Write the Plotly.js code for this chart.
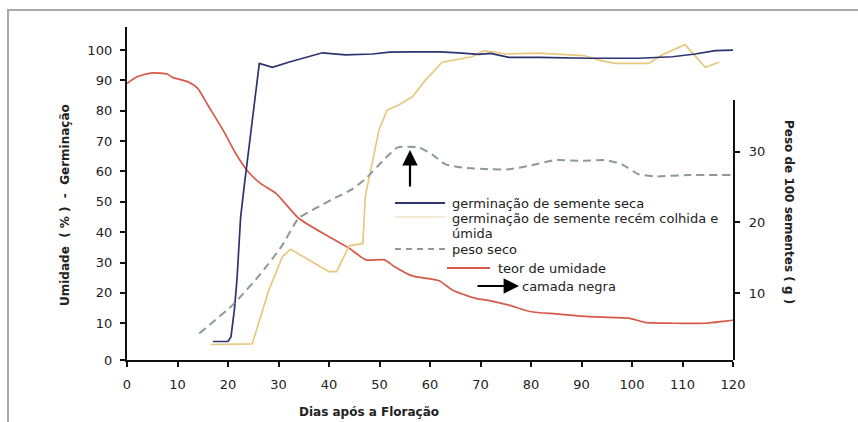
<!DOCTYPE html>
<html>
<head>
<meta charset="utf-8">
<script src="https://cdn.plot.ly/plotly-3.0.1.min.js"></script>
<style>
html,body{margin:0;padding:0;background:#fff;overflow:hidden;}
#wrap{position:relative;width:858px;height:422px;overflow:hidden;}
#chart{width:858px;height:422px;}
#frame{position:absolute;left:7px;top:9px;width:1000px;height:1000px;border-top:2px solid #a8a8a8;border-left:2px solid #a8a8a8;pointer-events:none;}
</style>
</head>
<body>
<div id="wrap"><div id="chart"></div><div id="frame"></div></div>
<script>
// ---- Data ----
const xTickVals = [0,10,20,30,40,50,60,70,80,90,100,110,120];

// teor de umidade (%), left axis
const umidadeDias = [0,2,5,8,9,12,14,16,19,21.5,24,26.5,29.5,34,40,44,47.3,51,53,56.5,61.8,64.4,69,72,75.6,80,85,91.4,99.3,102.6,108,114.5,118,120];
const umidadeVals = [89,91.2,92.5,92.1,91,89.6,87.4,81.9,73.7,66,59.9,56,52.8,44.6,38.5,34.7,30.9,30.9,28.6,25.6,24,21,18.2,17.4,16,13.8,13.1,12.2,11.7,10.3,10,10,10.6,11];

// germinação de semente seca (%), left axis
const secaDias = [17,20,20.6,21.3,21.8,22.5,23.2,26.2,28.8,32,38.7,43.3,48.6,52,56.5,62,65.7,69.7,72,75.6,81.6,91.4,101.3,108,112.5,116.5,120];
const secaVals = [4,4,5.6,15,25,45,55,95.6,94.3,96,99.1,98.4,98.7,99.3,99.4,99.4,99.1,98.6,98.9,97.6,97.6,97.3,97.3,97.8,98.7,99.8,100];

// germinação de semente recém colhida e úmida (%), left axis
const umidaDias = [16.6,24.8,28.1,30.8,32.4,36,40,41.5,44,46.7,47.2,49.9,51.5,53.8,56.5,59.1,62.4,68.3,70.7,75,81.5,90.5,93.4,96.7,103.3,105.9,110.5,114.5,117.3];
const umidaVals = [3,3.2,21,32,34.4,31,27,27,35.5,36.3,52,73.7,80.2,81.9,84.6,90.1,96,97.8,99.8,98.7,99,98.2,96.7,95.6,95.6,98.4,101.8,94.3,96];

// peso seco (g / 100 sementes), right axis
const pesoDias = [14.3,20.9,26.2,30.5,34,37.4,40.5,44.6,47.3,51.2,53.6,57.8,60.4,63.1,67,72,75.6,79.6,84.8,90.1,94.7,98,101.3,104.6,111.2,119.5];
const pesoVals = [4.3,8.3,12.5,16.5,20.6,22,23.2,24.7,26.2,29.1,30.6,30.6,29.6,28.2,27.7,27.5,27.5,28,28.8,28.7,28.8,28.2,26.8,26.5,26.7,26.7];

const leftTickVals = [-2.1,10,20,30,40,50,60,70,80,90,100];
const leftTickText = ["0","10","20","30","40","50","60","70","80","90","100"];
const rightTickVals = [10,20,30];

// ---- Layout geometry (pixels) ----
const L = 127, R = 733, T = 27, B = 360;
const W = R - L, H = B - T;
const px = x => (x - L) / W;
const py = y => (B - y) / H;

const FONT = "DejaVu Sans";
const TXT = "#222";

const COL_SECA = "#2b3470";
const COL_UMIDA = "#e6c97f";
const COL_UMID = "#d65a49";
const COL_PESO = "#8e9894";

const traces = [
  {x: umidadeDias, y: umidadeVals, type: "scatter", mode: "lines", name: "teor de umidade",
   line: {color: COL_UMID, width: 1.7, shape: "spline", smoothing: 0.6}, xaxis: "x", yaxis: "y"},
  {x: umidaDias, y: umidaVals, type: "scatter", mode: "lines", name: "germinação de semente recém colhida e úmida",
   line: {color: COL_UMIDA, width: 1.7}, xaxis: "x", yaxis: "y"},
  {x: secaDias, y: secaVals, type: "scatter", mode: "lines", name: "germinação de semente seca",
   line: {color: COL_SECA, width: 1.7}, xaxis: "x", yaxis: "y"},
  {x: pesoDias, y: pesoVals, type: "scatter", mode: "lines", name: "peso seco",
   line: {color: COL_PESO, width: 2, dash: "8px,5px", shape: "spline", smoothing: 0.5}, xaxis: "x", yaxis: "y2"}
];

const tickFont = {family: FONT, size: 13, color: TXT};
const bold = {family: FONT, size: 12, color: TXT};
const legFont = {family: FONT, size: 13, color: TXT};

function txt(x, y, text, font, extra) {
  return Object.assign({xref: "paper", yref: "paper", x: px(x), y: py(y), text: text,
    showarrow: false, xanchor: "left", yanchor: "middle", font: font}, extra || {});
}

const annotations = [
  txt(369, 412, "<b>Dias após a Floração</b>", bold, {xanchor: "center"}),
  txt(65, 205, "<b>Umidade  ( % )  -  Germinação</b>", bold, {xanchor: "center", textangle: -90}),
  txt(789, 212, "<b>Peso de 100 sementes ( g )</b>", bold, {xanchor: "center", textangle: 90}),
  txt(450, 203, "germinação de semente seca", legFont),
  txt(450, 218, "germinação de semente recém colhida e", legFont),
  txt(450, 233, "úmida", legFont),
  txt(450, 249, "peso seco", legFont),
  txt(496, 268, "teor de umidade", legFont),
  txt(520, 286, "camada negra", legFont),
  // arrow to "camada negra"
  {xref: "paper", yref: "paper", x: px(519), y: py(286), ax: -43, ay: 0, text: "",
   showarrow: true, arrowhead: 2, arrowsize: 1.4, arrowwidth: 2.2, arrowcolor: "#000"},
  // upward arrow under the dry-weight peak
  {xref: "paper", yref: "paper", x: px(410), y: py(150), ax: 0, ay: 38, text: "",
   showarrow: true, arrowhead: 2, arrowsize: 1.4, arrowwidth: 2.2, arrowcolor: "#000"}
];

function seg(x0, x1, y, color, width, dash) {
  return {type: "line", xref: "paper", yref: "paper", x0: px(x0), x1: px(x1), y0: py(y), y1: py(y),
    line: {color: color, width: width, dash: dash || "solid"}};
}

const shapes = [
  seg(395, 445, 203, COL_SECA, 1.8),
  seg(395, 445, 217, "#efe4c4", 1.5),
  seg(395, 447, 249, COL_PESO, 2, "6px,5px"),
  seg(447, 490, 268, COL_UMID, 1.8)
];

const layout = {
  width: 858, height: 422,
  margin: {l: L, r: 858 - R, t: T, b: 422 - B, pad: 0},
  paper_bgcolor: "#fff", plot_bgcolor: "rgba(0,0,0,0)",
  showlegend: false,
  font: {family: FONT, color: TXT},
  xaxis: {
    range: [0, 120], tickvals: xTickVals, ticks: "outside", ticklen: 5, tickwidth: 2, tickcolor: "#111",
    showline: true, linecolor: "#111", linewidth: 2.2, showgrid: false, zeroline: false,
    tickfont: tickFont, ticklabelstandoff: 6, anchor: "y"
  },
  yaxis: {
    range: [-2.1, 107.6], tickvals: leftTickVals, ticktext: leftTickText, ticks: "outside", ticklen: 5, tickwidth: 2,
    tickcolor: "#111", showline: true, linecolor: "#111", linewidth: 2.2, showgrid: false, zeroline: false,
    tickfont: tickFont, ticklabelstandoff: 5, anchor: "x", domain: [0, 1]
  },
  yaxis2: {
    range: [0.54, 37.3], tickvals: rightTickVals, ticks: "outside", ticklen: 5, tickwidth: 2,
    tickcolor: "#111", showline: true, linecolor: "#111", linewidth: 2.2, showgrid: false, zeroline: false,
    tickfont: tickFont, ticklabelstandoff: 6, side: "right", anchor: "x", domain: [0, (B - 100) / H]
  },
  annotations: annotations,
  shapes: shapes
};

Plotly.newPlot("chart", traces, layout, {displayModeBar: false, staticPlot: true});
</script>
</body>
</html>
